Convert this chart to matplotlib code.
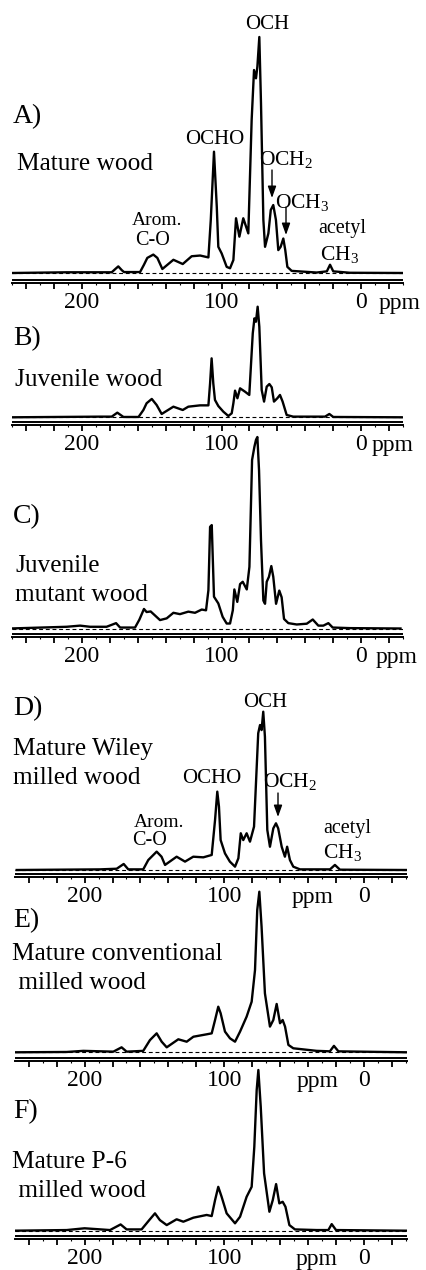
import matplotlib
matplotlib.use("Agg")
import matplotlib.pyplot as plt
from matplotlib.ticker import MultipleLocator, FuncFormatter

plt.rcParams['font.family'] = ['Liberation Serif', 'DejaVu Serif']
plt.rcParams['mathtext.fontset'] = 'custom'
plt.rcParams['mathtext.rm'] = 'Liberation Serif'
plt.rcParams['mathtext.it'] = 'Liberation Serif:italic'

# spectra: chemical shift (ppm) and intensity (% of tallest peak)
ppm_a = [250.4, 211, 178.7, 176.5, 174, 171.5, 169.9, 158.4, 155.6, 153.2, 148.9, 146, 142.4,
         134.5, 127.8, 121.4, 115.3, 109.4, 107.7, 105.4, 103.4, 102.3, 99.9, 96.3, 93.9, 91.5,
         89.6, 87.2, 84.4, 80.8, 78.4, 76.7, 75.3, 74.3, 72.9, 71.7, 70, 68.8, 66.4, 64.7, 62.9,
         61, 59.3, 57.6, 55.7, 54.3, 52.8, 49.7, 31.8, 24.5, 22.2, 19.9, 8, -30.3]
int_a = [0, 0.3, 0.3, 1.5, 2.8, 1.2, 0.4, 0.4, 3.5, 6.4, 7.8, 6.4, 1.7,
         5.6, 3.8, 7.1, 7.4, 6.6, 22.5, 51.4, 28.1, 11.1, 8.3, 2.6, 2.0, 5.5,
         23.2, 15.4, 23.2, 16.8, 64.8, 86, 82.5, 87.4, 100, 71.9, 22.5, 11.1, 16.8, 26.7, 28.8,
         22.5, 9.7, 11.1, 14.6, 9.7, 2.6, 0.9, 0.2, 0.7, 3.5, 0.7, 0.1, 0]

ppm_b = [250.4, 187, 178.7, 174.7, 170.3, 159.5, 156, 153.7, 150, 146.5, 142.9, 134.5, 127.8,
         123.8, 115.4, 109.4, 108.2, 107.1, 105.9, 104.7, 102.3, 98.7, 95.1, 92.7, 91.5, 90.3,
         88.6, 86.7, 83.2, 80.1, 77.6, 76.4, 75.3, 74.1, 72.9, 71.2, 69.5, 67.6, 65.7, 64, 62.4,
         60, 58.1, 56.2, 53.3, 48.6, 25.8, 22.7, 19.9, -29.2]
int_b = [0, 0.6, 0.6, 4.2, 0.3, 0.3, 6.6, 12.7, 16.6, 11.1, 3, 9.6, 6.6,
         9.6, 10.8, 10.8, 30.7, 53.3, 30.7, 15.7, 10.2, 5.1, 1.2, 3.6, 12.7, 24.1,
         17.2, 26.2, 23.2, 20.2, 75.9, 89.5, 86.4, 100, 81.9, 24.7, 14.2, 27.7, 30.1, 27.1, 14.2,
         17.2, 20.2, 14.2, 2.1, 0.6, 0.6, 3, 0.3, 0]

ppm_c = [251.6, 211, 201.4, 194.3, 182.4, 175.6, 172.7, 162, 158.9, 155.6, 153.7, 150.8, 144.1,
         139.3, 134.5, 129.8, 123.8, 119, 114.2, 111.1, 109.4, 108.2, 107, 106.3, 105.4, 102.3,
         99.2, 96.3, 93.9, 91.9, 90.8, 88.7, 86.7, 84.8, 81.9, 80, 78.1, 76.4, 75.3, 74.3, 73.1,
         71.7, 70, 68.8, 67.6, 66, 64.3, 62.9, 60.9, 58.6, 56.9, 55.2, 52.1, 46.1, 38.9, 34.6,
         30.6, 27, 23.4, 20.3, 8, -28.3]
int_c = [0, 0.9, 1.5, 0.9, 0.9, 2.8, 0.5, 0.5, 4.6, 10.2, 8.6, 8.9, 4.4,
         5.3, 8.2, 7.5, 8.8, 8.2, 9.9, 9.5, 20, 53.1, 54, 37.5, 16.6, 13.1,
         6.1, 2.6, 2.6, 9.5, 20.4, 13.9, 23.2, 24.4, 20.4, 32.2, 88, 95, 98.5, 100, 82.5,
         46, 14.6, 12.9, 24.4, 27, 32.6, 27, 12.9, 19.8, 16.3, 5, 2.8, 2.1, 2.5, 4.7,
         1.5, 1.5, 2.8, 0.5, 0.2, 0]

ppm_d = [248.6, 189, 177, 172, 168.7, 158, 154.4, 148.4, 144.9, 142.4, 134.1, 128.1, 122.2,
         115, 109, 106.6, 105, 103.8, 102.6, 99.5, 96, 92.3, 89.9, 88.2, 86.4, 84, 81.6, 78.7,
         75.7, 74.4, 73.3, 72.1, 70.9, 69.2, 67.3, 64.9, 63, 61.4, 58.9, 56.6, 55, 53, 50.6,
         45.8, 34, 24.3, 20.8, 17.2, -30.5]
int_d = [0, 0.4, 0.8, 3.8, 0.4, 0.4, 6.3, 11.6, 8.4, 3.2, 8.4, 5.3, 8.4,
         8, 9.5, 31.6, 49.5, 40, 18.9, 10.5, 5.3, 2.1, 7.4, 23.2, 18.9, 23.2, 17.9, 27.4,
         86.4, 91.6, 88.4, 100, 84.2, 25.3, 14.7, 26.3, 29.5, 26.3, 14.7, 8.4, 14.7, 6.3, 2.1,
         0.4, 0.4, 0.4, 3.2, 0.2, 0]

ppm_e = [249.8, 212.8, 200.9, 179.4, 173.5, 169.9, 158, 153.2, 148.4, 144.8, 141.2, 132.9,
         126.9, 122.1, 112.6, 109, 106.6, 104.3, 102.6, 99.5, 95.9, 92.3, 88.7, 84, 80.4, 78,
         76.4, 74.9, 73.3, 70.9, 67.3, 64.9, 62.5, 60.1, 58.2, 56.5, 54.1, 50.6, 33.9, 24.4,
         21.5, 18.3, -30.5]
int_e = [0, 0.2, 0.9, 0.4, 3.1, 0.4, 0.9, 7.6, 11.8, 6.6, 3.1, 8.1,
         6.6, 9.7, 11.2, 11.8, 20.1, 28.4, 24.3, 12.9, 8.7, 6.6, 12.9, 22.2, 31.5, 51.2,
         88.6, 100, 78.2, 36.7, 16, 20.1, 30.1, 18.1, 20.1, 16, 4.6, 2.5, 0.9, 0.6,
         4, 0.6, 0]

ppm_f = [251, 212.8, 200, 181.8, 174.2, 169.9, 159.2, 153.7, 149.6, 146.1, 141.2, 134.1, 129.3,
         122.1, 112.6, 109, 106.6, 104.3, 101.9, 98.3, 92.3, 88.7, 84, 80.4, 78.5, 76.8, 75.6,
         73.9, 71.5, 67.7, 65.3, 62.9, 60.6, 58.2, 56.2, 53.4, 49.4, 33.9, 25.5, 23.1, 20, -30.5]
int_f = [0, 0.4, 1.5, 0.4, 3.9, 0.8, 0.8, 6.6, 10.8, 6.6, 3.5, 7.1, 5.6,
         8.1, 9.8, 9.1, 19, 27.3, 21.1, 10.8, 4.6, 8.7, 21.1, 27.3, 52.2, 87.5, 100,
         77.2, 35.7, 11.8, 19, 29, 17, 18, 14.9, 3.5, 0.8, 0.4, 0.4, 4.1, 0.4, 0]

panel_letters = ["A)", "B)", "C)", "D)", "E)", "F)"]
panel_names = ["Mature wood", "Juvenile wood", "Juvenile\nmutant wood",
               "Mature Wiley\nmilled wood", "Mature conventional\n milled wood",
               "Mature P-6\n milled wood"]
labelled_ticks = [200, 100, 0]

W, H = 427, 1270
fig = plt.figure(figsize=(4.27, 12.70), dpi=100)


def fx(x):
    return x / W


def fy(y):
    return 1 - y / H


def lab(v, pos):
    return f"{v:.0f}" if round(v) in labelled_ticks else ""


# pixel layout: left, right, baseline, peak top, axis line, xlim, ppm text x,
# letter y, name y, name x
layout = [
    (12, 403, 273, 37, 283, (250.2, -30.1), 400, 123, 170, 17),
    (12, 403, 417.3, 306.7, 425, (250.2, -30.1), 393, 345, 386, 15),
    (12, 403, 628.5, 437, 637, (250.2, -30.1), 397, 523, 572, 15),
    (15, 407, 870, 711.7, 877, (249.8, -30.8), 313, 715, 755, 13),
    (15, 407, 1052.3, 891.7, 1061, (249.8, -30.8), 318, 927, 960, 12),
    (15, 407, 1230.7, 1070, 1239, (249.8, -30.8), 317, 1118, 1168, 12),
]
spectra = [(ppm_a, int_a), (ppm_b, int_b), (ppm_c, int_c),
           (ppm_d, int_d), (ppm_e, int_e), (ppm_f, int_f)]

for i, ((ppm, inten), (left, right, base, peak, axis, xlim, ppm_x, let_y, name_y, name_x)) in \
        enumerate(zip(spectra, layout)):
    s = (base - peak) / 100
    top = peak - 6
    ax = fig.add_axes([fx(left), fy(axis), (right - left) / W, (axis - top) / H])
    ax.patch.set_alpha(0)
    ax.set_xlim(*xlim)
    ax.set_ylim(-(axis - base) / s, (base - top) / s)
    ax.plot(ppm, inten, color='k', lw=1.7, solid_joinstyle='round')
    ax.axhline(0, color='k', lw=0.8, ls=(0, (3.5, 2.5)))
    ax.axhline(-(axis - base - 3.5) / s, color='k', lw=1.4)
    for sp in ['top', 'left', 'right']:
        ax.spines[sp].set_visible(False)
    ax.spines['bottom'].set_linewidth(1.4)
    ax.set_yticks([])
    ax.xaxis.set_major_locator(MultipleLocator(20))
    ax.xaxis.set_minor_locator(MultipleLocator(10))
    ax.xaxis.set_major_formatter(FuncFormatter(lab))
    ax.tick_params(axis='x', which='major', direction='out', length=4, width=1.3,
                   labelsize=17, pad=2.5)
    ax.tick_params(axis='x', which='minor', direction='out', length=1.5, width=0.8)
    label_y = axis + 20
    fig.text(fx(ppm_x), fy(label_y), "ppm", ha='center', va='center', fontsize=17)

    fig.text(fx(13), fy(let_y), panel_letters[i], ha='left', va='baseline', fontsize=20)
    lines = panel_names[i].split("\n")
    for k, line in enumerate(lines):
        fig.text(fx(name_x), fy(name_y + k * 29), line, ha='left',
                 va='baseline', fontsize=18.3)

# peak assignments (panels A and D)
notes = [
    ("OCH", 267, 29, 15), ("OCHO", 215, 144, 15), ("OCH$_2$", 286, 165, 15.5),
    ("OCH$_3$", 302, 208, 15.5), ("Arom.", 157, 225, 14), ("C-O", 153, 245, 14.5),
    ("acetyl", 342, 233, 14.5), ("CH$_3$", 339, 260, 15.5),
    ("OCH", 265, 707, 15), ("OCHO", 212, 783, 15), ("OCH$_2$", 290, 787, 15.5),
    ("Arom.", 159, 827, 14), ("C-O", 150, 845, 14.5),
    ("acetyl", 347, 833, 14.5), ("CH$_3$", 342, 858, 15.5),
]
for txt, x, y, size in notes:
    fig.text(fx(x), fy(y), txt, ha='center', va='baseline', fontsize=size)

arrows = [(272, 170, 198), (286, 207, 235), (278, 793, 817)]
for x, y0, y1 in arrows:
    fig.add_artist(matplotlib.patches.FancyArrowPatch(
        (fx(x), fy(y0)), (fx(x), fy(y1)), transform=fig.transFigure,
        arrowstyle='-|>,head_length=0.7,head_width=0.25', mutation_scale=10,
        color='k', lw=1.0, shrinkA=0, shrinkB=0))

fig.savefig('out.png', dpi=100)
